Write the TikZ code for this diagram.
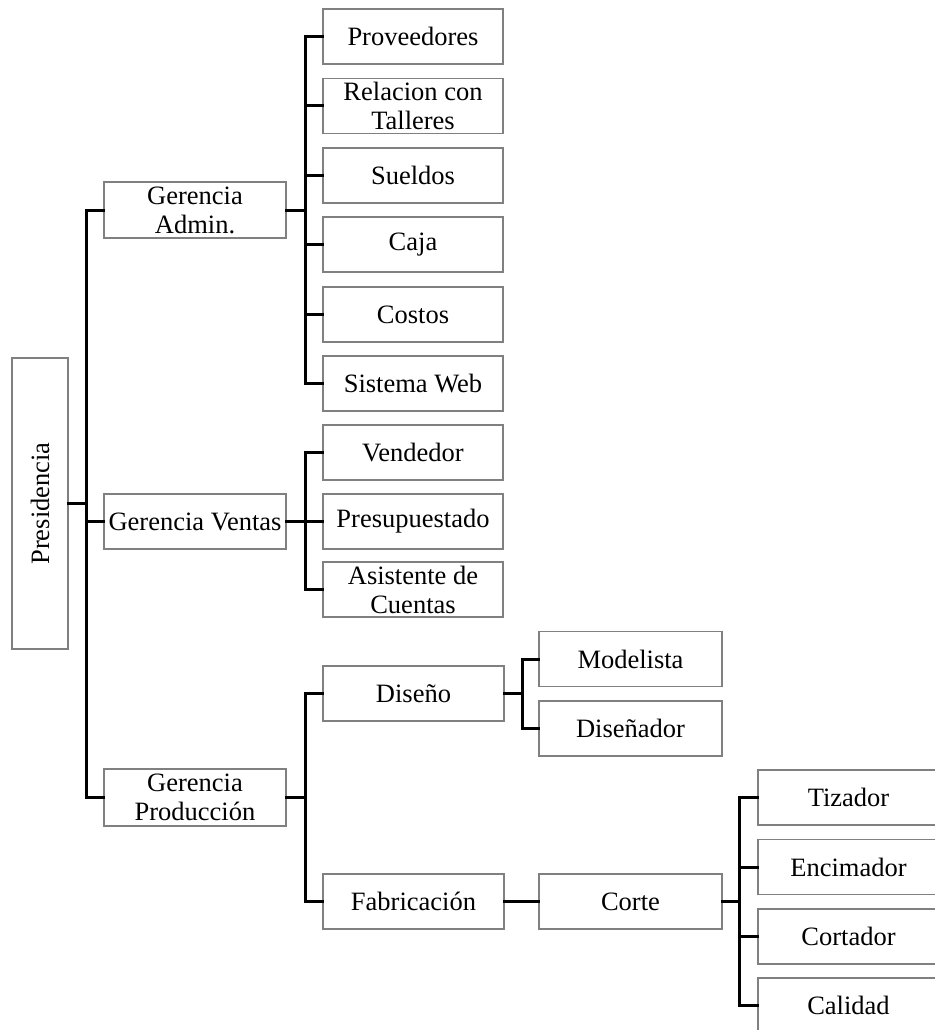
\documentclass[tikz,border=0pt]{standalone}
\usepackage{fontspec}
\setmainfont{Liberation Serif}
\begin{document}
\begin{tikzpicture}[x=1pt,y=-1pt,
  box/.style={draw=black!50, line width=1.3pt, fill=white, inner sep=0pt,
    align=center, font=\fontsize{26.5}{29}\selectfont},
  unitbox/.style={box, minimum width=180pt, minimum height=55pt},
  conn/.style={line width=3pt, line join=miter, line cap=rect}]
\useasboundingbox (0,0) rectangle (934,1030);

% Presidencia
\node[box, minimum width=56pt, minimum height=291pt] (pres) at (40,503.5)
  {\rotatebox{90}{Presidencia}};

% Gerencias
\node[unitbox, minimum width=182pt, minimum height=56pt] (ga) at (195,210) {Gerencia\\Admin.};
\node[unitbox, minimum width=182pt] (gv) at (195,521.5) {Gerencia Ventas};
\node[unitbox, minimum width=182pt, minimum height=57pt] (gp) at (195,797.5) {Gerencia\\Producción};

% Gerencia Admin.
\node[unitbox] (a1) at (413,36.5) {Proveedores};
\node[unitbox] (a2) at (413,106) {Relacion con\\Talleres};
\node[unitbox] (a3) at (413,175.5) {Sueldos};
\node[unitbox] (a4) at (413,244.5) {Caja};
\node[unitbox] (a5) at (413,314.5) {Costos};
\node[unitbox] (a6) at (413,383.5) {Sistema Web};

% Gerencia Ventas
\node[unitbox] (v1) at (413,452.5) {Vendedor};
\node[unitbox] (v2) at (413,521.5) {Presupuestado};
\node[unitbox] (v3) at (413,589.5) {Asistente de\\Cuentas};

% Gerencia Producción
\node[unitbox, minimum width=181pt] (p1) at (413.5,693.5) {Diseño};
\node[unitbox, minimum width=181pt] (p2) at (413.5,901.5) {Fabricación};
\node[unitbox, minimum width=183pt] (d1) at (630.5,659) {Modelista};
\node[unitbox, minimum width=183pt] (d2) at (630.5,728.5) {Diseñador};
\node[unitbox, minimum width=183pt] (corte) at (630.5,901.5) {Corte};
\node[unitbox, minimum width=181pt] (c1) at (848.5,797.5) {Tizador};
\node[unitbox, minimum width=181pt] (c2) at (848.5,867) {Encimador};
\node[unitbox, minimum width=181pt] (c3) at (848.5,936.5) {Cortador};
\node[unitbox, minimum width=181pt] (c4) at (848.5,1005.5) {Calidad};

% vertical trunks
\coordinate (t0) at (86,0);
\coordinate (t1) at (305,0);
\coordinate (t2) at (522,0);
\coordinate (t3) at (739,0);

% Presidencia -> Gerencias
\draw[conn] (ga.west) -- (ga.west -| t0) -- (gp.west -| t0) -- (gp.west);
\draw[conn] (gv.west) -- (gv.west -| t0);
\draw[conn] (pres.east) -- (pres.east -| t0);

% Gerencia Admin. -> areas
\draw[conn] (ga.east) -- (ga.east -| t1);
\draw[conn] (a1.west) -- (a1.west -| t1) -- (a6.west -| t1) -- (a6.west);
\foreach \n in {a2,a3,a4,a5} \draw[conn] (\n.west) -- (\n.west -| t1);

% Gerencia Ventas -> areas
\draw[conn] (gv.east) -- (v2.west);
\draw[conn] (v1.west) -- (v1.west -| t1) -- (v3.west -| t1) -- (v3.west);

% Gerencia Producción -> areas
\draw[conn] (gp.east) -- (gp.east -| t1);
\draw[conn] (p1.west) -- (p1.west -| t1) -- (p2.west -| t1) -- (p2.west);

% Diseño
\draw[conn] (p1.east) -- (p1.east -| t2);
\draw[conn] (d1.west) -- (d1.west -| t2) -- (d2.west -| t2) -- (d2.west);

% Fabricación -> Corte
\draw[conn] (p2.east) -- (corte.west);

% Corte
\draw[conn] (corte.east) -- (corte.east -| t3);
\draw[conn] (c1.west) -- (c1.west -| t3) -- (c4.west -| t3) -- (c4.west);
\foreach \n in {c2,c3} \draw[conn] (\n.west) -- (\n.west -| t3);
\end{tikzpicture}
\end{document}
